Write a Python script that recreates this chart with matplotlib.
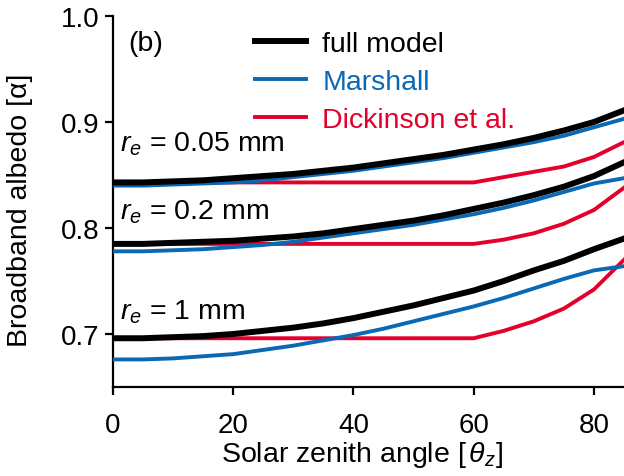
import matplotlib
matplotlib.use('Agg')
import matplotlib.pyplot as plt

plt.rcParams['font.family'] = ['Liberation Sans', 'DejaVu Sans']
plt.rcParams['mathtext.fontset'] = 'custom'
plt.rcParams['mathtext.it'] = 'Liberation Sans:italic'
plt.rcParams['mathtext.rm'] = 'Liberation Sans'

# zenith angle (deg)
angle = [0, 5, 10, 15, 20, 25, 30, 35, 40, 45, 50, 55, 60, 65, 70, 75, 80, 85]

# r_e = 0.05 mm
full_005 = [0.843, 0.843, 0.844, 0.845, 0.847, 0.849, 0.851, 0.854, 0.857, 0.861,
            0.865, 0.869, 0.874, 0.879, 0.885, 0.892, 0.900, 0.911]
marsh_005 = [0.840, 0.840, 0.841, 0.842, 0.843, 0.845, 0.848, 0.851, 0.854, 0.858,
             0.862, 0.866, 0.871, 0.876, 0.881, 0.887, 0.895, 0.903]
dick_005 = [0.843, 0.843, 0.843, 0.843, 0.843, 0.843, 0.843, 0.843, 0.843, 0.843,
            0.843, 0.843, 0.843, 0.848, 0.853, 0.858, 0.867, 0.881]

# r_e = 0.2 mm
full_02 = [0.785, 0.785, 0.786, 0.787, 0.788, 0.790, 0.792, 0.795, 0.799, 0.803,
           0.807, 0.812, 0.818, 0.824, 0.831, 0.839, 0.849, 0.862]
marsh_02 = [0.778, 0.778, 0.779, 0.780, 0.782, 0.784, 0.787, 0.791, 0.795, 0.799,
            0.803, 0.808, 0.813, 0.819, 0.826, 0.834, 0.842, 0.847]
dick_02 = [0.785, 0.785, 0.785, 0.785, 0.785, 0.785, 0.785, 0.785, 0.785, 0.785,
           0.785, 0.785, 0.785, 0.789, 0.795, 0.804, 0.817, 0.838]

# r_e = 1 mm
full_1 = [0.696, 0.696, 0.697, 0.698, 0.700, 0.703, 0.706, 0.710, 0.715, 0.721,
          0.727, 0.734, 0.741, 0.750, 0.760, 0.769, 0.780, 0.790]
marsh_1 = [0.676, 0.676, 0.677, 0.679, 0.681, 0.685, 0.689, 0.694, 0.699, 0.705,
           0.712, 0.719, 0.726, 0.734, 0.743, 0.752, 0.760, 0.764]
dick_1 = [0.696, 0.696, 0.696, 0.696, 0.696, 0.696, 0.696, 0.696, 0.696, 0.696,
          0.696, 0.696, 0.696, 0.703, 0.712, 0.724, 0.742, 0.770]

labels = ['full model', 'Marshall', 'Dickinson et al.']
radius_labels = ['0.05', '0.2', '1']
radius_ypos = [0.873, 0.809, 0.715]

black = '#000000'
blue = '#0a68b4'
red = '#e3002b'
fs = 20.5

fig = plt.figure(figsize=(6.24, 4.77), dpi=100)
ax = fig.add_axes([113/624, 89/477, 511/624, 371/477])

groups = [(full_005, marsh_005, dick_005), (full_02, marsh_02, dick_02), (full_1, marsh_1, dick_1)]
for i, (f, m, d) in enumerate(groups):
    ax.plot(angle, d, color=red, lw=2.8, label=labels[2] if i == 0 else None, zorder=2)
    ax.plot(angle, m, color=blue, lw=2.8, label=labels[1] if i == 0 else None, zorder=3)
    ax.plot(angle, f, color=black, lw=4.3, label=labels[0] if i == 0 else None, zorder=4)

ax.set_xlim(0, 85)
ax.set_ylim(0.65, 1.0)
ax.set_xticks([0, 20, 40, 60, 80])
ax.set_yticks([0.7, 0.8, 0.9, 1.0])
ax.spines['top'].set_visible(False)
ax.spines['right'].set_visible(False)
ax.spines['left'].set_linewidth(1.6)
ax.spines['bottom'].set_linewidth(1.6)
ax.tick_params(direction='out', length=6, width=1.6, labelsize=20)
ax.tick_params(axis='x', pad=12)
ax.tick_params(axis='y', pad=4)

ax.set_xlabel(r'Solar zenith angle [$\,\theta_z$]', fontsize=fs)
ax.xaxis.set_label_coords(0.487, -0.14)
ax.set_ylabel('Broadband albedo [α]', fontsize=fs)
ax.yaxis.set_label_coords(-0.157, 0.48)

ax.text(0.029, 0.927, '(b)', transform=ax.transAxes, fontsize=fs, va='center')
for lab, yy in zip(radius_labels, radius_ypos):
    ax.text(1.2, yy, r'$r_e$ = ' + lab + ' mm', fontsize=fs, va='baseline')

handles, labs = ax.get_legend_handles_labels()
order = [2, 1, 0]
leg = ax.legend([handles[k] for k in order], [labs[k] for k in order],
                loc='upper left', bbox_to_anchor=(255/624, 1 - 32/477),
                bbox_transform=fig.transFigure, frameon=False,
                fontsize=fs, handlelength=1.8, handletextpad=0.56, labelspacing=0.42,
                borderaxespad=0, borderpad=0)
for txt, c in zip(leg.get_texts(), [black, blue, red]):
    txt.set_color(c)

fig.savefig('out.png', dpi=100)
